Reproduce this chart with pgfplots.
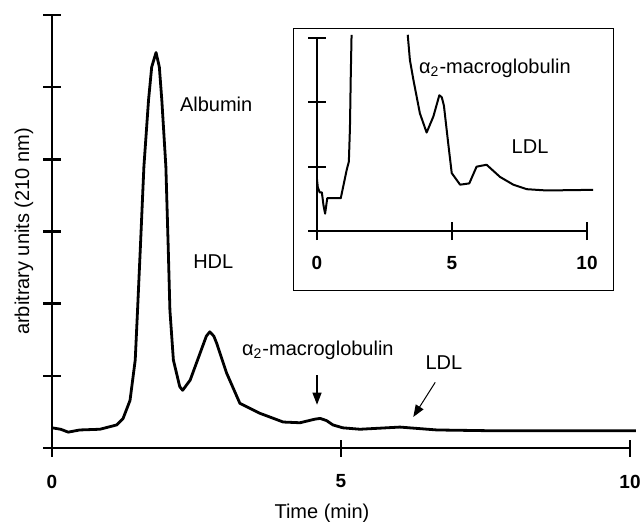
\documentclass[border=0pt]{standalone}
\usepackage{pgfplots}
\pgfplotsset{compat=1.18}
\usepackage{fontspec}
\setmainfont{Liberation Sans}
\usetikzlibrary{arrows.meta}

\pgfplotstableread{
t v
0 0.28
0.15 0.26
0.28 0.22
0.48 0.25
0.83 0.26
1.12 0.32
1.23 0.41
1.35 0.66
1.44 1.22
1.48 1.91
1.53 2.8
1.59 3.9
1.67 4.82
1.725 5.28
1.80 5.48
1.857 5.28
1.90 4.82
1.97 3.9
2.01 2.8
2.04 1.91
2.10 1.22
2.21 0.85
2.26 0.80
2.39 0.94
2.56 1.31
2.67 1.55
2.73 1.61
2.80 1.55
2.85 1.45
3.02 1.04
3.25 0.62
3.6 0.48
4.0 0.36
4.29 0.35
4.55 0.40
4.64 0.41
4.75 0.38
4.86 0.32
5.03 0.28
5.33 0.26
6.02 0.29
6.66 0.25
7.53 0.24
10.1 0.24
}\maindata

\pgfplotstableread{
t v
0.0 0.80
0.03 0.68
0.10 0.60
0.18 0.60
0.24 0.40
0.30 0.27
0.38 0.51
0.88 0.51
1.10 0.95
1.18 1.08
1.22 1.6
1.25 2.4
1.28 3.05
}\insetleft

\pgfplotstableread{
t v
3.36 3.05
3.44 2.66
3.57 2.35
3.81 1.83
4.06 1.53
4.31 1.78
4.53 2.11
4.62 2.08
4.70 1.95
4.86 1.36
4.99 0.90
5.30 0.72
5.64 0.74
5.91 1.0
6.28 1.03
6.78 0.84
7.27 0.72
7.77 0.65
8.5 0.63
10.23 0.64
}\insetright

\begin{document}
\begin{tikzpicture}
\useasboundingbox (-26pt,-36.5pt) rectangle (294pt,224pt);
\begin{axis}[
  at={(0pt,0pt)}, anchor=south west, scale only axis,
  width=289pt, height=216.5pt,
  xmin=0, xmax=10, ymin=0, ymax=6,
  axis x line*=bottom, axis y line*=left,
  xtick={0,5,10}, ytick={0,1,2,3,4,5,6}, yticklabels={},
  tick align=center, major tick length=8.5pt,
  axis line style={line width=1.2pt},
  every tick/.style={black, line width=1.2pt},
  /pgf/number format/assume math mode=true,
  xticklabel style={anchor=center, yshift=-12.5pt, font=\fontsize{9.5}{11}\selectfont\bfseries},
  xlabel={Time (min)},
  ylabel={arbitrary units (210 nm)},
  label style={font=\fontsize{10}{12}\selectfont},
  xlabel style={at={(axis description cs:0.467,-0.15)}, anchor=center},
  ylabel style={at={(axis description cs:-0.0484,0.5)}, anchor=center},
  clip=false,
]
\addplot[black, line width=1.4pt, line join=round] table[x=t,y=v] {\maindata};
\node[font=\fontsize{10}{12}\selectfont] at (axis cs:2.84,4.76) {Albumin};
\node[font=\fontsize{10}{12}\selectfont] at (axis cs:2.79,2.58) {HDL};
\node[font=\fontsize{10}{12}\selectfont] at (axis cs:4.60,1.36) {α\textsubscript{2}-macroglobulin};
\node[font=\fontsize{10}{12}\selectfont] at (axis cs:6.78,1.19) {LDL};
\draw[line width=0.6pt, -{Triangle[length=6pt,width=4.5pt]}] (axis cs:4.585,1.01) -- (axis cs:4.585,0.60);
\draw[line width=0.5pt, -{Triangle[length=6pt,width=4.5pt]}] (axis cs:6.63,0.91) -- (axis cs:6.25,0.43);
\end{axis}

\draw[fill=white, line width=0.5pt] (120.5pt,79pt) rectangle (280.5pt,210pt);

\begin{axis}[
  at={(132.5pt,108.5pt)}, anchor=south west, scale only axis,
  width=135pt, height=96.5pt,
  xmin=0, xmax=10, ymin=0, ymax=3,
  axis x line*=bottom, axis y line*=left,
  xtick={0,5,10}, ytick={0,1,2,3}, yticklabels={},
  tick align=center, major tick length=9pt,
  axis line style={line width=0.9pt},
  every tick/.style={black, line width=0.9pt},
  /pgf/number format/assume math mode=true,
  xticklabel style={anchor=center, yshift=-11.5pt, font=\fontsize{9.5}{11}\selectfont\bfseries},
  clip=false,
]
\addplot[black, line width=1pt, line join=round] table[x=t,y=v] {\insetleft};
\addplot[black, line width=1pt, line join=round] table[x=t,y=v] {\insetright};
\node[font=\fontsize{10}{12}\selectfont] at (axis cs:6.59,2.53) {α\textsubscript{2}-macroglobulin};
\node[font=\fontsize{10}{12}\selectfont] at (axis cs:7.89,1.31) {LDL};
\end{axis}
\end{tikzpicture}
\end{document}
